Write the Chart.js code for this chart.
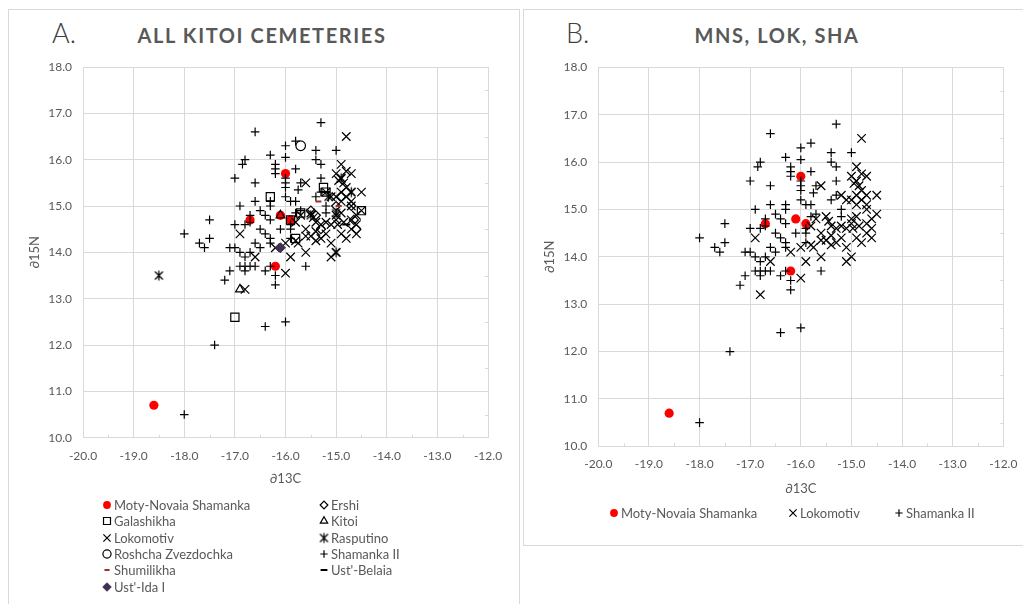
<!DOCTYPE html>
<html>
<head>
<meta charset="utf-8">
<script src="https://cdn.jsdelivr.net/npm/chart.js@4.4.1/dist/chart.umd.min.js"></script>
<style>
  body { margin: 0; background: #fff; width: 1023px; height: 604px; overflow: hidden; position: relative; font-family: Lato, "Open Sans", sans-serif; }
  .frame { position: absolute; border: 1px solid #d9d9d9; box-sizing: border-box; }
  #frameA { left: 8px; top: 9px; width: 512px; height: 640px; }
  #frameB { left: 523px; top: 9px; width: 540px; height: 537px; }
  canvas.plot { position: absolute; }
  #chartA { left: 9px; top: 10px; }
  #chartB { left: 524px; top: 10px; }
  .letter { position: absolute; font-size: 27px; line-height: 27px; font-weight: 300; color: #404040; }
  .title { position: absolute; width: 400px; text-align: center; font-size: 20px; line-height: 20px; font-weight: 700; color: #595959; letter-spacing: 1.6px; white-space: nowrap; }
  .leg { position: absolute; height: 16px; font-size: 13px; line-height: 16px; color: #595959; white-space: nowrap; }
  .leg canvas { position: absolute; left: 0; top: 0; }
  .leg span { position: absolute; left: 14px; top: 0; }
</style>
</head>
<body>
<div class="frame" id="frameA"></div>
<div class="frame" id="frameB"></div>
<div class="letter" style="left:52px; top:19px;">A.</div>
<div class="title" style="left:62px; top:25px;">ALL KITOI CEMETERIES</div>
<div class="letter" style="left:566px; top:19px;">B.</div>
<div class="title" style="left:577px; top:25px;">MNS, LOK, SHA</div>
<canvas class="plot" id="chartA" width="510" height="594"></canvas>
<canvas class="plot" id="chartB" width="499" height="535"></canvas>
<div id="legends"></div>
<script>
// d13C, d15N pairs per cemetery
const motyNovaia = [[-16.0, 15.7], [-16.1, 14.8], [-15.9, 14.7], [-16.7, 14.7], [-16.2, 13.7], [-18.6, 10.7]];
const ershi = [[-15.5, 14.9], [-15.4, 14.8], [-15.3, 14.5], [-14.7, 15.0], [-14.65, 14.7], [-14.6, 14.5], [-15.0, 15.0], [-14.9, 15.2]];
const galashikha = [[-17.0, 12.6], [-16.3, 15.2], [-15.25, 15.4], [-15.2, 15.3], [-14.5, 14.9], [-15.7, 14.85], [-15.9, 14.7], [-15.8, 14.3]];
const kitoi = [[-16.9, 13.2], [-16.1, 14.8]];
const lokomotiv = [
  [-14.8, 16.5], [-14.9, 15.9], [-15.0, 15.7], [-14.9, 15.6], [-14.8, 15.75], [-14.7, 15.7], [-14.95, 15.55], [-14.85, 15.5],
  [-14.8, 15.4], [-14.7, 15.3], [-14.5, 15.3], [-15.1, 15.2], [-15.0, 15.2], [-14.9, 15.1], [-15.2, 15.3], [-14.7, 15.0],
  [-14.5, 14.9], [-14.6, 14.8], [-14.7, 14.7], [-14.6, 14.6], [-14.6, 14.4], [-15.0, 14.8], [-15.0, 14.7], [-15.1, 14.6],
  [-15.2, 14.65], [-15.5, 14.85], [-15.45, 14.75], [-15.4, 14.65], [-15.6, 14.5], [-15.5, 14.35], [-15.4, 14.25], [-15.3, 14.3],
  [-15.2, 14.4], [-15.1, 14.2], [-14.9, 14.4], [-14.8, 14.3], [-15.0, 14.0], [-15.1, 13.9], [-15.6, 14.0], [-15.75, 14.2],
  [-15.8, 14.25], [-15.9, 13.9], [-16.0, 13.55], [-16.2, 14.1], [-16.6, 13.9], [-16.9, 14.4], [-16.8, 13.2], [-15.6, 15.5],
  [-16.0, 14.2], [-14.9, 14.85], [-14.7, 14.5], [-15.3, 14.6], [-14.97, 14.6], [-14.8, 15.2], [-14.9, 15.3], [-15.8, 14.65],
  [-15.6, 14.35], [-15.7, 14.8], [-15.4, 14.45], [-14.85, 14.65], [-14.7, 15.1]
];
const rasputino = [[-18.5, 13.5], [-14.7, 15.3], [-15.5, 14.8], [-15.0, 14.85], [-15.0, 14.0], [-15.15, 15.2], [-14.9, 15.6]];
const roshcha = [[-15.7, 16.3]];
const shamanka2 = [
  [-15.3, 16.8], [-16.6, 16.6], [-16.0, 16.3], [-15.8, 16.4], [-15.4, 16.2], [-15.0, 16.2], [-16.3, 16.1], [-16.8, 16.0],
  [-16.85, 15.9], [-16.0, 16.05], [-16.2, 15.9], [-16.2, 15.8], [-16.2, 15.7], [-15.8, 15.8], [-15.4, 16.0], [-15.3, 15.9],
  [-17.0, 15.6], [-16.6, 15.5], [-16.0, 15.6], [-16.0, 15.5], [-16.0, 15.4], [-15.7, 15.5], [-15.75, 15.35], [-15.3, 15.6],
  [-15.3, 15.3], [-16.6, 15.1], [-16.3, 15.1], [-16.3, 15.0], [-16.9, 15.0], [-16.0, 15.2], [-15.9, 15.1], [-15.8, 15.1],
  [-15.2, 15.0], [-16.5, 14.9], [-16.4, 14.8], [-16.3, 14.7], [-16.7, 14.8], [-16.7, 14.65], [-17.5, 14.7], [-18.0, 14.4],
  [-17.7, 14.2], [-17.6, 14.1], [-17.5, 14.3], [-17.0, 14.6], [-16.8, 14.6], [-17.1, 14.1], [-17.0, 14.1], [-16.9, 14.0],
  [-16.8, 13.9], [-16.9, 13.7], [-16.8, 13.7], [-16.7, 13.7], [-16.8, 13.6], [-16.6, 13.7], [-16.4, 13.6], [-16.3, 13.7],
  [-17.1, 13.6], [-17.2, 13.4], [-16.2, 13.5], [-16.2, 13.3], [-15.6, 13.7], [-16.5, 14.5], [-16.4, 14.4], [-16.3, 14.2],
  [-16.3, 14.3], [-16.5, 14.1], [-16.1, 14.5], [-15.9, 14.5], [-15.9, 14.3], [-15.8, 14.85], [-15.7, 14.9], [-15.9, 14.6],
  [-15.4, 15.2], [-15.2, 14.85], [-16.6, 14.2], [-16.7, 14.0], [-17.4, 12.0], [-16.4, 12.4], [-16.0, 12.5], [-18.0, 10.5]
];
const shumilikha = [[-15.35, 15.1], [-14.95, 15.0]];
const ustBelaia = [[-14.8, 14.6], [-15.2, 15.3]];
const ustIda = [[-16.1, 14.1]];

const xTicks = [-20, -19, -18, -17, -16, -15, -14, -13, -12];
const yTicks = [10, 11, 12, 13, 14, 15, 16, 17, 18];

// Rasputino marker: x with a vertical bar
const starImg = document.createElement('canvas');
starImg.width = 13; starImg.height = 13;
(function () {
  const c = starImg.getContext('2d');
  c.strokeStyle = '#000'; c.lineWidth = 1.2;
  c.beginPath();
  c.moveTo(2.5, 2.5); c.lineTo(10.5, 10.5);
  c.moveTo(10.5, 2.5); c.lineTo(2.5, 10.5);
  c.moveTo(6.5, 1.5); c.lineTo(6.5, 11.5);
  c.stroke();
})();

const series = {
  mns: { label: 'Moty-Novaia Shamanka', data: motyNovaia, pointStyle: 'circle', radius: 4.6, fill: '#ff0000', stroke: '#ff0000', bw: 0 },
  ers: { label: 'Ershi', data: ershi, pointStyle: 'rectRot', radius: 4.5, fill: 'rgba(0,0,0,0)', stroke: '#000', bw: 1.2 },
  gal: { label: 'Galashikha', data: galashikha, pointStyle: 'rect', radius: 5.8, fill: 'rgba(0,0,0,0)', stroke: '#000', bw: 1.2 },
  kit: { label: 'Kitoi', data: kitoi, pointStyle: 'triangle', radius: 5, fill: 'rgba(0,0,0,0)', stroke: '#000', bw: 1.2 },
  lok: { label: 'Lokomotiv', data: lokomotiv, pointStyle: 'crossRot', radius: 6, fill: 'rgba(0,0,0,0)', stroke: '#000', bw: 1.2 },
  ras: { label: 'Rasputino', data: rasputino, pointStyle: starImg, radius: 6, fill: 'rgba(0,0,0,0)', stroke: '#000', bw: 1.2 },
  ros: { label: 'Roshcha Zvezdochka', data: roshcha, pointStyle: 'circle', radius: 4.8, fill: 'rgba(0,0,0,0)', stroke: '#000', bw: 1.2 },
  sha: { label: 'Shamanka II', data: shamanka2, pointStyle: 'cross', radius: 4.3, fill: 'rgba(0,0,0,0)', stroke: '#000', bw: 1.2 },
  shu: { label: 'Shumilikha', data: shumilikha, pointStyle: 'line', radius: 3, fill: '#a0302a', stroke: '#a0302a', bw: 2 },
  ubl: { label: "Ust'-Belaia", data: ustBelaia, pointStyle: 'line', radius: 4, fill: '#000', stroke: '#000', bw: 2 },
  uid: { label: "Ust'-Ida I", data: ustIda, pointStyle: 'rectRot', radius: 5, fill: '#3f3151', stroke: '#3f3151', bw: 1 }
};

function makeDatasets(keys) {
  return keys.map((k, i) => {
    const s = series[k];
    return {
      label: s.label,
      data: s.data.map(p => ({ x: p[0], y: p[1] })),
      pointStyle: s.pointStyle,
      pointRadius: s.radius,
      pointHoverRadius: s.radius,
      pointBackgroundColor: s.fill,
      pointBorderColor: s.stroke,
      pointBorderWidth: s.bw,
      order: -i
    };
  });
}

// small minor tick marks at the half units, along the bottom and right edges
const minorTicks = {
  id: 'minorTicks',
  beforeDatasetsDraw(chart) {
    const { ctx, chartArea, scales } = chart;
    ctx.save();
    ctx.strokeStyle = '#d9d9d9';
    ctx.lineWidth = 1;
    ctx.beginPath();
    for (let i = 0; i < xTicks.length - 1; i++) {
      const px = Math.round(scales.x.getPixelForValue(xTicks[i] + 0.5)) + 0.5;
      ctx.moveTo(px, chartArea.bottom);
      ctx.lineTo(px, chartArea.bottom - 3);
    }
    for (let i = 0; i < yTicks.length - 1; i++) {
      const py = Math.round(scales.y.getPixelForValue(yTicks[i] + 0.5)) + 0.5;
      ctx.moveTo(chartArea.right, py);
      ctx.lineTo(chartArea.right - 3, py);
    }
    ctx.stroke();
    ctx.restore();
  }
};

Chart.defaults.font.family = 'Lato, "Open Sans", sans-serif';
Chart.defaults.font.size = 12;
Chart.defaults.color = '#595959';

function makeChart(id, keys, box) {
  const gridStyle = { color: '#d9d9d9', lineWidth: 1, drawTicks: false };
  return new Chart(document.getElementById(id), {
    type: 'scatter',
    data: { datasets: makeDatasets(keys) },
    plugins: [minorTicks],
    options: {
      responsive: false,
      animation: false,
      events: [],
      layout: { padding: { left: 0, top: box.top, right: box.right, bottom: box.bottom } },
      plugins: { legend: { display: false }, tooltip: { enabled: false } },
      scales: {
        x: {
          type: 'linear', min: xTicks[0], max: xTicks[xTicks.length - 1],
          afterBuildTicks: s => { s.ticks = xTicks.map(v => ({ value: v })); },
          ticks: { padding: 11, callback: v => v.toFixed(1) },
          grid: gridStyle,
          border: { color: '#d9d9d9' },
          title: { display: true, text: '∂13C', font: { size: 13 }, padding: 0 },
          afterFit: s => { s.height = box.xh; s.paddingLeft = 0; s.paddingRight = 0; }
        },
        y: {
          type: 'linear', min: yTicks[0], max: yTicks[yTicks.length - 1],
          afterBuildTicks: s => { s.ticks = yTicks.map(v => ({ value: v })); },
          ticks: { padding: 11, callback: v => v.toFixed(1) },
          grid: gridStyle,
          border: { color: '#d9d9d9' },
          title: { display: true, text: '∂15N', font: { size: 13 }, padding: { top: 18, bottom: 0 } },
          afterFit: s => { s.width = box.yw; s.paddingTop = 0; s.paddingBottom = 0; }
        }
      }
    }
  });
}

const keysA = ['mns', 'ers', 'gal', 'kit', 'lok', 'ras', 'ros', 'sha', 'shu', 'ubl', 'uid'];
const keysB = ['mns', 'lok', 'sha'];

makeChart('chartA', keysA, { top: 57, right: 31, bottom: 117.2, xh: 49.1, yw: 74 });
makeChart('chartB', keysB, { top: 57.3, right: 19.7, bottom: 47.9, xh: 50.8, yw: 74.3 });

// HTML legends
const legendHost = document.getElementById('legends');
function addLegendItem(key, mx, my) {
  const s = series[key];
  const item = document.createElement('div');
  item.className = 'leg';
  item.style.left = (mx - 7) + 'px';
  item.style.top = (my - 8) + 'px';
  const c = document.createElement('canvas');
  c.width = 14; c.height = 16;
  const ctx = c.getContext('2d');
  ctx.fillStyle = s.fill;
  ctx.strokeStyle = s.stroke;
  ctx.lineWidth = s.bw;
  Chart.helpers.drawPoint(ctx, { pointStyle: s.pointStyle, radius: s.radius * 0.85, borderWidth: s.bw, rotation: 0 }, 7, 8);
  const t = document.createElement('span');
  t.textContent = s.label;
  item.appendChild(c);
  item.appendChild(t);
  legendHost.appendChild(item);
}
keysA.forEach((k, i) => addLegendItem(k, i % 2 === 0 ? 107 : 324, 504.7 + Math.floor(i / 2) * 16.4));
const legBx = [614, 793, 899];
keysB.forEach((k, i) => addLegendItem(k, legBx[i], 513.3));
</script>
</body>
</html>
